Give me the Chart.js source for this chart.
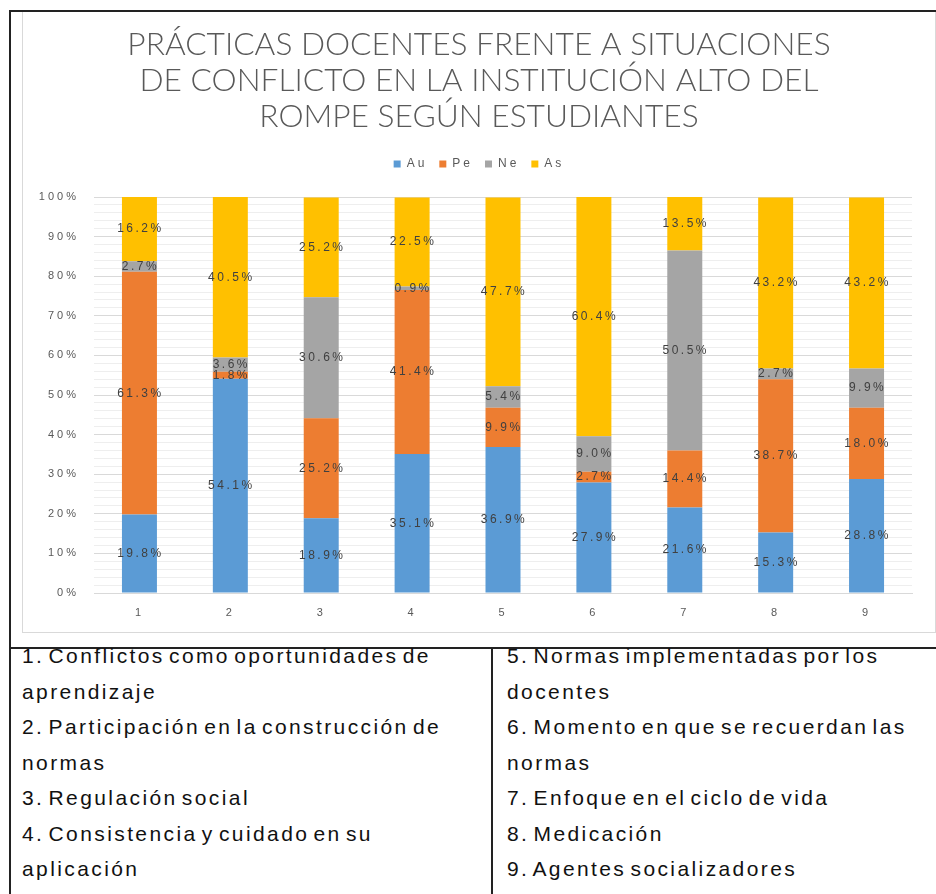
<!DOCTYPE html>
<html>
<head>
<meta charset="utf-8">
<script src="https://cdn.jsdelivr.net/npm/chart.js@4.4.1/dist/chart.umd.min.js"></script>
<style>
  html, body { margin: 0; padding: 0; background: #fff; }
  body { width: 936px; height: 894px; position: relative; overflow: hidden; }
  #topline { position: absolute; left: 9px; top: 10px; width: 927px; height: 2px; background: #222; }
  #leftline { position: absolute; left: 9px; top: 10px; width: 2px; height: 884px; background: #222; }
  #frame { position: absolute; left: 22px; top: 12px; width: 912px; height: 620px; border: 1px solid #d9d9d9; border-top: none; }
  #chart { position: absolute; left: 23px; top: 13px; }
  #tableline { position: absolute; left: 9px; top: 647px; width: 927px; height: 1.5px; background: #222; }
  #midline { position: absolute; left: 491px; top: 647px; width: 1.5px; height: 247px; background: #222; }
  .col { position: absolute; top: 638px; font-family: 'Liberation Sans', Arial, sans-serif; font-size: 21px; line-height: 35.5px; color: #111; letter-spacing: 2.4px; word-spacing: -4px; white-space: nowrap; }
  #colL { left: 22px; }
  #colR { left: 507px; }
</style>
</head>
<body>
<div id="topline"></div>
<div id="leftline"></div>
<div id="frame"></div>
<canvas id="chart" width="912" height="620"></canvas>
<div id="tableline"></div>
<div id="midline"></div>
<div class="col" id="colL"></div>
<div class="col" id="colR"></div>
<script>
// ---- data ----
const categories = ['1', '2', '3', '4', '5', '6', '7', '8', '9'];
const seriesNames = ['Au', 'Pe', 'Ne', 'As'];
const seriesColors = ['#5B9BD5', '#ED7D31', '#A5A5A5', '#FFC000'];
const au = [19.8, 54.1, 18.9, 35.1, 36.9, 27.9, 21.6, 15.3, 28.8];
const pe = [61.3, 1.8, 25.2, 41.4, 9.9, 2.7, 14.4, 38.7, 18.0];
const ne = [2.7, 3.6, 30.6, 0.9, 5.4, 9.0, 50.5, 2.7, 9.9];
const as = [16.2, 40.5, 25.2, 22.5, 47.7, 60.4, 13.5, 43.2, 43.2];
const titleLines = [
  'PRÁCTICAS DOCENTES FRENTE A SITUACIONES',
  'DE CONFLICTO EN LA INSTITUCIÓN ALTO DEL',
  'ROMPE SEGÚN ESTUDIANTES'
];
const leftLines = [
  '1. Conflictos como oportunidades de', 'aprendizaje',
  '2. Participación en la construcción de', 'normas',
  '3. Regulación social',
  '4. Consistencia y cuidado en su', 'aplicación'
];
const rightLines = [
  '5. Normas implementadas por los', 'docentes',
  '6. Momento en que se recuerdan las', 'normas',
  '7. Enfoque en el ciclo de vida',
  '8. Medicación',
  '9. Agentes socializadores'
];

// ---- table text ----
function fillCol(id, lines) {
  const el = document.getElementById(id);
  lines.forEach((t, i) => {
    if (i) el.appendChild(document.createElement('br'));
    el.appendChild(document.createTextNode(t));
  });
}
fillCol('colL', leftLines);
fillCol('colR', rightLines);

// ---- plugins ----
const SPACING = '3px';
const stylePlugin = {
  id: 'stylePlugin',
  beforeLayout(chart) {
    chart.ctx.letterSpacing = SPACING;
    const lg = chart.legend;
    if (lg && !lg._patched) {
      const fit = lg.fit;
      lg.fit = function () { fit.call(this); this.height += 17; };
      lg._patched = true;
    }
  },
  afterLayout(chart) {
    // centre title and legend on the full chart box (Excel style)
    [chart.titleBlock, chart.legend].forEach((b) => {
      if (b) { b.left = 0; b.right = chart.width; b.width = chart.width; }
    });
  },
  beforeDraw(chart) {
    chart.ctx.letterSpacing = SPACING;
    const tb = chart.titleBlock;
    if (tb && !tb._patched) {
      const d = tb.draw;
      tb.draw = function () {
        const c = this.ctx;
        const old = c.letterSpacing;
        c.letterSpacing = '0px';
        d.call(this);
        c.letterSpacing = old;
      };
      tb._patched = true;
    }
  }
};

const labelPlugin = {
  id: 'segLabels',
  afterDatasetsDraw(chart) {
    const ctx = chart.ctx;
    ctx.save();
    ctx.letterSpacing = '2.5px';
    ctx.font = "12px 'Liberation Sans', Arial, sans-serif";
    ctx.fillStyle = '#404040';
    ctx.textAlign = 'center';
    ctx.textBaseline = 'middle';
    chart.data.datasets.forEach((ds, di) => {
      const meta = chart.getDatasetMeta(di);
      meta.data.forEach((el, i) => {
        const v = ds.data[i];
        const y = (el.y + el.base) / 2;
        ctx.fillText(v.toFixed(1) + '%', el.x + 1, y);
      });
    });
    ctx.restore();
  }
};

const seriesData = [au, pe, ne, as];
const datasets = seriesNames.map((n, i) => ({
  label: n,
  data: seriesData[i],
  backgroundColor: seriesColors[i],
  borderWidth: 0,
  categoryPercentage: 1,
  barPercentage: 0.385
}));

new Chart(document.getElementById('chart'), {
  type: 'bar',
  data: { labels: categories, datasets },
  options: {
    responsive: false,
    animation: false,
    devicePixelRatio: 1,
    layout: { padding: { left: 0, right: 23, top: 0, bottom: 0 } },
    plugins: {
      title: {
        display: true,
        text: titleLines,
        color: '#595959',
        font: { family: 'Lato', size: 31.7, weight: '300', lineHeight: 36 / 31.7 },
        padding: { top: 14, bottom: 11 }
      },
      legend: {
        display: true,
        position: 'top',
        labels: {
          boxWidth: 7,
          boxHeight: 7,
          padding: 12,
          color: '#595959',
          font: { family: "'Liberation Sans', Arial, sans-serif", size: 12 }
        }
      },
      tooltip: { enabled: false }
    },
    scales: {
      x: {
        stacked: true,
        afterFit(s) { s.height = 40; },
        grid: { display: false, drawTicks: false },
        border: { display: true, color: '#d9d9d9', width: 1 },
        ticks: { color: '#595959', padding: 13, font: { family: "'Liberation Sans', Arial, sans-serif", size: 11 } }
      },
      y: {
        stacked: true,
        min: 0,
        max: 100,
        afterFit(s) { s.width = 71; },
        border: { display: false },
        grid: {
          drawTicks: false,
          color: (c) => (c.tick && c.tick.value % 10 === 0) ? '#d9d9d9' : '#eeeeee',
          lineWidth: 1
        },
        ticks: {
          stepSize: 2,
          autoSkip: false,
          padding: 15,
          color: '#595959',
          font: { family: "'Liberation Sans', Arial, sans-serif", size: 11 },
          callback: (v) => (v % 10 === 0 ? v + '%' : '')
        }
      }
    }
  },
  plugins: [stylePlugin, labelPlugin]
});
</script>
</body>
</html>
